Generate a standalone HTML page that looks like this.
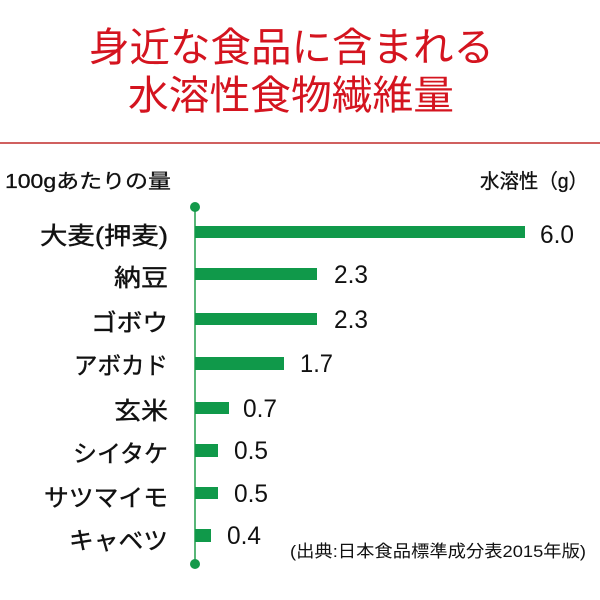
<!DOCTYPE html>
<html><head><meta charset="utf-8"><style>
html,body{margin:0;padding:0;background:#fff;}
svg{display:block;}
text{font-family:"Liberation Sans","Noto Sans CJK JP",sans-serif;}
</style></head><body>
<svg width="600" height="600" viewBox="0 0 600 600" xmlns="http://www.w3.org/2000/svg">
<rect width="600" height="600" fill="#fff"/>
<text x="89" y="61" font-size="40" fill="#d4141f" textLength="405" lengthAdjust="spacingAndGlyphs">身近な食品に含まれる</text>
<text x="128" y="109" font-size="40" fill="#d4141f" textLength="326" lengthAdjust="spacingAndGlyphs">水溶性食物繊維量</text>
<rect x="0" y="142" width="600" height="2" fill="#d0605f"/>
<text x="5" y="188" font-size="20" fill="#111" stroke="#111" stroke-width="0.3" textLength="166" lengthAdjust="spacingAndGlyphs">100gあたりの量</text>
<text x="480" y="188" font-size="20" fill="#111" stroke="#111" stroke-width="0.3" textLength="108" lengthAdjust="spacingAndGlyphs">水溶性（g）</text>
<line x1="195" y1="207" x2="195" y2="564" stroke="#2fa457" stroke-width="1.6"/>
<circle cx="195" cy="207" r="5" fill="#13994a"/>
<circle cx="195" cy="564" r="5" fill="#13994a"/>
<g fill="#10994a">
<rect x="195" y="226" width="330" height="12"/>
<rect x="195" y="268" width="122" height="12"/>
<rect x="195" y="313" width="122" height="12"/>
<rect x="195" y="357" width="89" height="13"/>
<rect x="195" y="402" width="34" height="12"/>
<rect x="195" y="444" width="23" height="13"/>
<rect x="195" y="487" width="23" height="12"/>
<rect x="195" y="529" width="16" height="13"/>
</g>
<g font-size="24" fill="#111" stroke="#111" stroke-width="0.4">
<text x="40" y="244" textLength="128" lengthAdjust="spacingAndGlyphs">大麦(押麦)</text>
<text x="114" y="286" textLength="54" lengthAdjust="spacingAndGlyphs">納豆</text>
<text x="91" y="331" textLength="77" lengthAdjust="spacingAndGlyphs">ゴボウ</text>
<text x="74" y="374" textLength="94" lengthAdjust="spacingAndGlyphs">アボカド</text>
<text x="114" y="419" textLength="54" lengthAdjust="spacingAndGlyphs">玄米</text>
<text x="73" y="462" textLength="95" lengthAdjust="spacingAndGlyphs">シイタケ</text>
<text x="44" y="506" textLength="124" lengthAdjust="spacingAndGlyphs">サツマイモ</text>
<text x="69" y="549" textLength="99" lengthAdjust="spacingAndGlyphs">キャベツ</text>
</g>
<g font-size="25" fill="#111">
<text x="540" y="243" textLength="34" lengthAdjust="spacingAndGlyphs">6.0</text>
<text x="334" y="283" textLength="34" lengthAdjust="spacingAndGlyphs">2.3</text>
<text x="334" y="328" textLength="34" lengthAdjust="spacingAndGlyphs">2.3</text>
<text x="300" y="372" textLength="33" lengthAdjust="spacingAndGlyphs">1.7</text>
<text x="243" y="417" textLength="34" lengthAdjust="spacingAndGlyphs">0.7</text>
<text x="234" y="459" textLength="34" lengthAdjust="spacingAndGlyphs">0.5</text>
<text x="234" y="502" textLength="34" lengthAdjust="spacingAndGlyphs">0.5</text>
<text x="227" y="544" textLength="34" lengthAdjust="spacingAndGlyphs">0.4</text>
</g>
<text x="290" y="557" font-size="17" fill="#111" textLength="296" lengthAdjust="spacingAndGlyphs">(出典:日本食品標準成分表2015年版)</text>
</svg>
</body></html>
